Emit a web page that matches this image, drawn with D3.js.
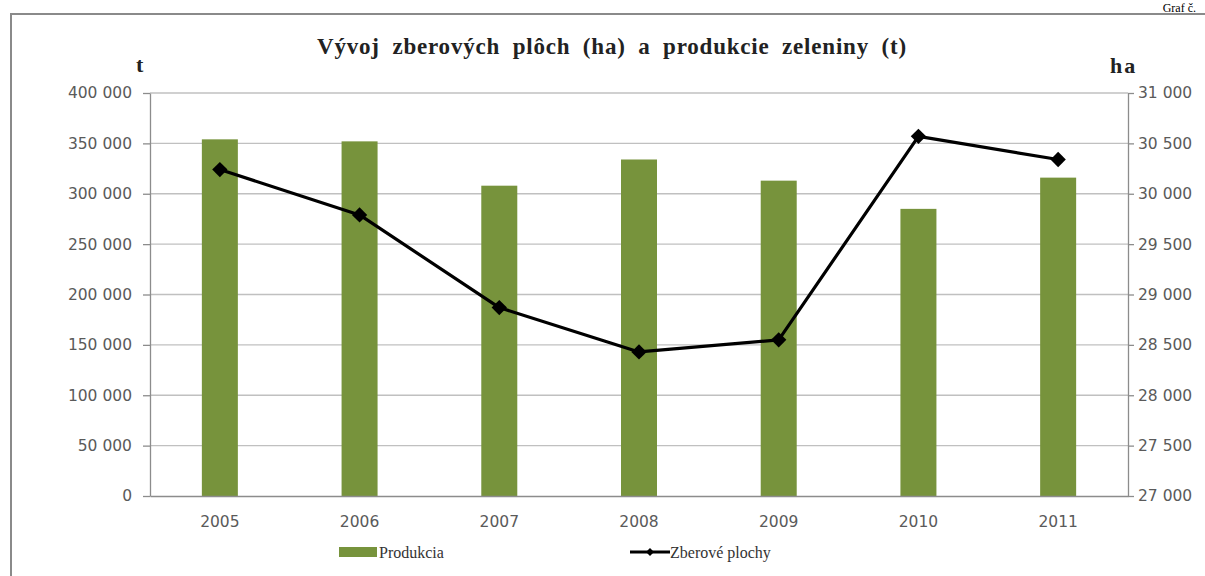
<!DOCTYPE html>
<html>
<head>
<meta charset="utf-8">
<script src="https://cdn.jsdelivr.net/npm/d3@7"></script>
<style>
  body { margin: 0; background: #fff; }
  svg { display: block; }
</style>
</head>
<body>
<svg id="chart"></svg>
<script>
const years = ['2005', '2006', '2007', '2008', '2009', '2010', '2011'];
const produkcia = [354000, 352000, 308000, 334000, 313000, 285000, 316000];
const plochy = [30240, 29790, 28870, 28430, 28550, 30570, 30340];
const leftTicks = [0, 50000, 100000, 150000, 200000, 250000, 300000, 350000, 400000];
const rightTicks = [27000, 27500, 28000, 28500, 29000, 29500, 30000, 30500, 31000];

const W = 1205, H = 576;
const svg = d3.select('#chart').attr('width', W).attr('height', H);

// outer frame, cut off on the right and bottom like the scan
svg.append('rect')
  .attr('x', 11).attr('y', 14).attr('width', W + 20).attr('height', H + 20)
  .attr('fill', 'none').attr('stroke', '#8a8a8a').attr('stroke-width', 2);

svg.append('text')
  .attr('x', 1196).attr('y', 12)
  .attr('text-anchor', 'end')
  .attr('font-family', 'Liberation Serif').attr('font-size', 12)
  .attr('fill', '#000')
  .text('Graf č.');

const plotL = 150, plotR = 1128, plotT = 93, plotB = 496;

const x = d3.scaleBand().domain(years).range([plotL, plotR]);
const yL = d3.scaleLinear().domain([0, 400000]).range([plotB, plotT]);
const yR = d3.scaleLinear().domain([27000, 31000]).range([plotB, plotT]);

const fmt = d => d3.format(',')(d).replace(/,/g, ' ');

// gridlines
svg.append('g').selectAll('line')
  .data(leftTicks.slice(1))
  .enter().append('line')
  .attr('x1', plotL).attr('x2', plotR)
  .attr('y1', d => yL(d)).attr('y2', d => yL(d))
  .attr('stroke', '#c0c0c0').attr('stroke-width', 1.3);

// bars
svg.append('g').selectAll('rect')
  .data(produkcia)
  .enter().append('rect')
  .attr('x', (d, i) => x(years[i]) + x.bandwidth() / 2 - 18)
  .attr('width', 36)
  .attr('y', d => yL(d))
  .attr('height', d => plotB - yL(d))
  .attr('fill', '#77933c');

// axes
const axisStyle = g => {
  g.selectAll('.domain').attr('stroke', '#8c8c8c').attr('stroke-width', 1.3);
  g.selectAll('.tick line').attr('stroke', '#8c8c8c').attr('stroke-width', 1.3);
  g.selectAll('.tick text')
    .attr('font-family', 'DejaVu Sans').attr('font-size', 15.5)
    .attr('fill', '#5a5a5a');
};

svg.append('g')
  .attr('transform', `translate(${plotL},0)`)
  .call(d3.axisLeft(yL).tickValues(leftTicks).tickFormat(fmt).tickSize(7).tickSizeOuter(0).tickPadding(11))
  .call(axisStyle);

svg.append('g')
  .attr('transform', `translate(${plotR},0)`)
  .call(d3.axisRight(yR).tickValues(rightTicks).tickFormat(fmt).tickSize(6).tickSizeOuter(0).tickPadding(4))
  .call(axisStyle);

svg.append('g')
  .attr('transform', `translate(0,${plotB})`)
  .call(d3.axisBottom(x).tickSize(0).tickPadding(26))
  .call(axisStyle)
  .call(g => g.selectAll('.tick text').attr('dy', '0.3em'));

// line + markers
const line = d3.line()
  .x((d, i) => x(years[i]) + x.bandwidth() / 2)
  .y(d => yR(d));

svg.append('path')
  .datum(plochy)
  .attr('d', line)
  .attr('fill', 'none').attr('stroke', '#000').attr('stroke-width', 3.2)
  .attr('stroke-linejoin', 'round');

const diamond = d3.symbol().type(d3.symbolDiamond2).size(150);
svg.append('g').selectAll('path')
  .data(plochy)
  .enter().append('path')
  .attr('transform', (d, i) => `translate(${x(years[i]) + x.bandwidth() / 2},${yR(d)})`)
  .attr('d', diamond)
  .attr('fill', '#000');

// title and unit labels
svg.append('text')
  .attr('x', 612).attr('y', 54)
  .attr('text-anchor', 'middle')
  .attr('font-family', 'Liberation Serif').attr('font-weight', 'bold').attr('font-size', 23)
  .attr('letter-spacing', 0.8).attr('word-spacing', 6)
  .attr('fill', '#222')
  .text('Vývoj zberových plôch (ha) a produkcie zeleniny (t)');

svg.append('text')
  .attr('x', 136).attr('y', 72)
  .attr('font-family', 'Liberation Serif').attr('font-weight', 'bold').attr('font-size', 22)
  .attr('fill', '#222')
  .text('t');

svg.append('text')
  .attr('x', 1110).attr('y', 73)
  .attr('font-family', 'Liberation Serif').attr('font-weight', 'bold').attr('font-size', 22)
  .attr('letter-spacing', 2)
  .attr('fill', '#222')
  .text('ha');

// legend
const legend = svg.append('g');
legend.append('rect')
  .attr('x', 339).attr('y', 547).attr('width', 38).attr('height', 10)
  .attr('fill', '#77933c');
legend.append('text')
  .attr('x', 379).attr('y', 558)
  .attr('font-family', 'Liberation Serif').attr('font-size', 16)
  .attr('fill', '#333')
  .text('Produkcia');

legend.append('line')
  .attr('x1', 630).attr('x2', 670).attr('y1', 552).attr('y2', 552)
  .attr('stroke', '#000').attr('stroke-width', 3);
legend.append('path')
  .attr('transform', 'translate(650,552)')
  .attr('d', d3.symbol().type(d3.symbolDiamond2).size(40))
  .attr('fill', '#000');
legend.append('text')
  .attr('x', 670).attr('y', 558)
  .attr('font-family', 'Liberation Serif').attr('font-size', 16)
  .attr('fill', '#333')
  .text('Zberové plochy');
</script>
</body>
</html>
